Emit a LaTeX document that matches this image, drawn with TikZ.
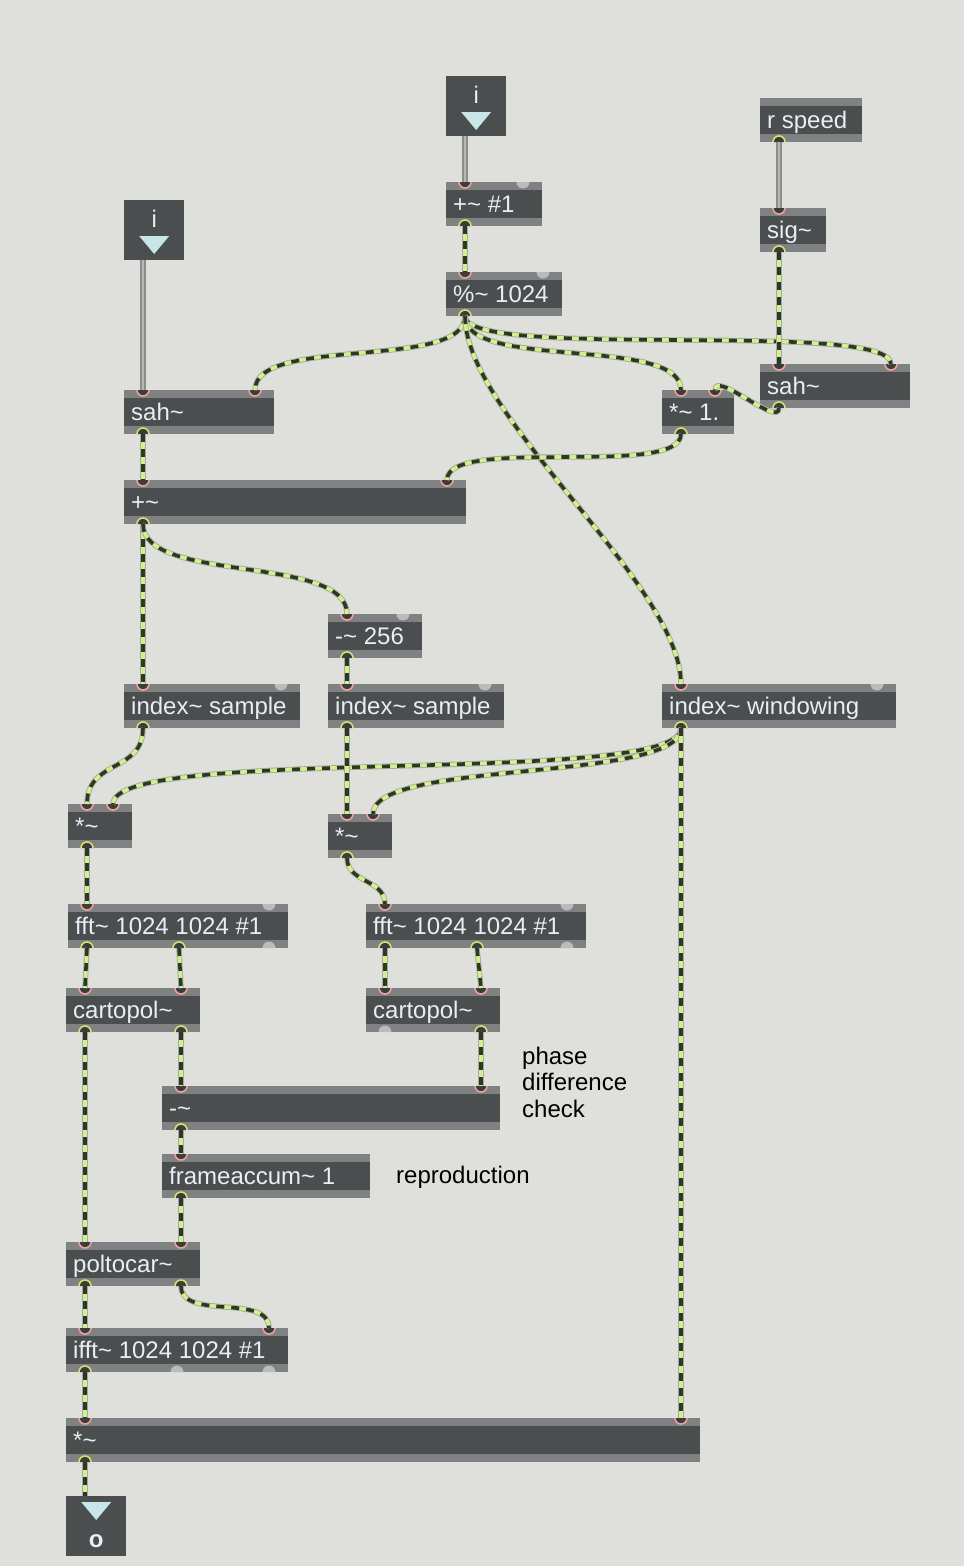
\documentclass[tikz,border=0pt]{standalone}
\usepackage{fontspec}
\setmainfont{Liberation Sans}
\usetikzlibrary{calc}
\definecolor{bg}{RGB}{223,224,219}
\definecolor{body}{RGB}{74,78,78}
\definecolor{strip}{RGB}{128,129,131}
\definecolor{txtc}{RGB}{232,238,244}
\definecolor{inc}{RGB}{240,160,150}
\definecolor{outc}{RGB}{215,225,105}
\definecolor{portfill}{RGB}{58,61,61}
\definecolor{dotc}{RGB}{186,187,189}
\definecolor{tric}{RGB}{200,230,232}
\definecolor{sigl}{RGB}{212,240,140}
\definecolor{sigd}{RGB}{45,55,35}
\definecolor{cedge}{RGB}{165,170,160}
\definecolor{ctlo}{RGB}{140,140,140}
\definecolor{ctli}{RGB}{185,185,185}
\newcommand\tld{\textasciitilde}
\newcommand\mobj[5]{%
  \node[objbox, minimum width=#4pt, anchor=north west] (#1) at (#2,#3) {};
  \node[objtxt, anchor=base west] (#1-t) at ($(#1.north west)+(7,30)$) {#5};}
\newcommand\portin[3]{\coordinate (#1) at (#2,#3);
  \fill[portfill] ($(#1)+(-6,0)$) arc[start angle=180,end angle=360,radius=6pt] -- cycle;
  \draw[inc, line width=1.6pt] ($(#1)+(-6,0)$) arc[start angle=180,end angle=360,radius=6pt];}
\newcommand\portout[3]{\coordinate (#1) at (#2,#3);
  \fill[portfill] ($(#1)+(-6,0)$) arc[start angle=180,end angle=0,radius=6pt] -- cycle;
  \draw[outc, line width=1.6pt] ($(#1)+(-6,0)$) arc[start angle=180,end angle=0,radius=6pt];}
\newcommand\dotin[2]{\fill[dotc] (#1-6.5,#2) arc[start angle=180,end angle=360,radius=6.5pt] -- cycle;}
\newcommand\dotout[2]{\fill[dotc] (#1-6.5,#2) arc[start angle=180,end angle=0,radius=6.5pt] -- cycle;}
\tikzset{
  objbox/.style={inner sep=0pt, minimum height=44pt, fill=strip,
    path picture={\fill[body] ([yshift=-8pt]path picture bounding box.north west) rectangle ([yshift=8pt]path picture bounding box.south east);}},
  iobox/.style={inner sep=0pt, minimum width=60pt, minimum height=60pt, fill=body, anchor=north west},
  objtxt/.style={inner sep=0pt, text=txtc, font=\fontsize{24}{28}\selectfont},
  cmt/.style={inner sep=0pt, text=black, font=\fontsize{24}{28}\selectfont, anchor=base west},
  tri/.style={fill=tric},
  sig/.style={line width=3.6pt, draw=sigl, preaction={draw=cedge, line width=5.4pt}, postaction={draw=sigd, line width=3.6pt, dash pattern=on 8pt off 7pt}},
  ctl/.style={line width=5.5pt, draw=ctlo, postaction={draw=ctli, line width=1.8pt}}
}
\begin{document}
\begin{tikzpicture}[x=1pt,y=-1pt]
\fill[bg] (0,0) rectangle (964,1566);
\useasboundingbox (0,0) rectangle (964,1566);
% inlet / outlet boxes
\node[iobox] (inT) at (446,76) {};
\node[objtxt, anchor=base] (inT-t) at ($(inT.north)+(0,27)$) {i};
\fill[tri] ($(inT.north)+(-15,36)$) -- ($(inT.north)+(15,36)$) -- ($(inT.north)+(0,54)$) -- cycle;
\node[iobox] (inL) at (124,200) {};
\node[objtxt, anchor=base] (inL-t) at ($(inL.north)+(0,27)$) {i};
\fill[tri] ($(inL.north)+(-15,36)$) -- ($(inL.north)+(15,36)$) -- ($(inL.north)+(0,54)$) -- cycle;
\node[iobox] (outB) at (66,1496) {};
\fill[tri] ($(outB.north)+(-15,6)$) -- ($(outB.north)+(15,6)$) -- ($(outB.north)+(0,24)$) -- cycle;
\node[objtxt, anchor=base, font=\fontsize{24}{28}\selectfont\bfseries] (outB-t) at ($(outB.north)+(0,51)$) {o};
% objects
\mobj{pct}{446}{182}{96}{+\tld{} \#1}
\mobj{mod}{446}{272}{116}{\%\tld{} 1024}
\mobj{rsp}{760}{98}{102}{r speed}
\mobj{sg}{760}{208}{66}{sig\tld}
\mobj{sahR}{760}{364}{150}{sah\tld}
\mobj{mula}{662}{390}{72}{*\tld{} 1.}
\mobj{sahL}{124}{390}{150}{sah\tld}
\mobj{plus}{124}{480}{342}{+\tld}
\mobj{sub}{328}{614}{94}{-\tld{} 256}
\mobj{idxL}{124}{684}{176}{index\tld{} sample}
\mobj{idxM}{328}{684}{176}{index\tld{} sample}
\mobj{idxW}{662}{684}{234}{index\tld{} windowing}
\mobj{mulL}{68}{804}{64}{*\tld}
\mobj{mulM}{328}{814}{64}{*\tld}
\mobj{fftL}{68}{904}{220}{fft\tld{} 1024 1024 \#1}
\mobj{fftR}{366}{904}{220}{fft\tld{} 1024 1024 \#1}
\mobj{carL}{66}{988}{134}{cartopol\tld}
\mobj{carR}{366}{988}{134}{cartopol\tld}
\mobj{diff}{162}{1086}{338}{-\tld}
\mobj{acc}{162}{1154}{208}{frameaccum\tld{} 1}
\mobj{pol}{66}{1242}{134}{poltocar\tld}
\mobj{ifft}{66}{1328}{222}{ifft\tld{} 1024 1024 \#1}
\mobj{mulB}{66}{1418}{634}{*\tld}
% comments
\node[cmt] (c1) at (522,1064) {phase};
\node[cmt] (c2) at (522,1090) {difference};
\node[cmt] (c3) at (522,1117) {check};
\node[cmt] (c4) at (396,1183) {reproduction};
% ports
\coordinate (inT-o) at (465,136);
\coordinate (inL-o) at (143,260);
\coordinate (outB-i) at (85,1496);
\portin{pct-i0}{465}{182}\dotin{523}{182}\portout{pct-o0}{465}{226}
\portin{mod-i0}{465}{272}\dotin{543}{272}\portout{mod-o0}{465}{316}
\portout{rsp-o0}{779}{142}
\portin{sg-i0}{779}{208}\portout{sg-o0}{779}{252}
\portin{sahR-i0}{779}{364}\portin{sahR-i1}{891}{364}\portout{sahR-o0}{779}{408}
\portin{mula-i0}{681}{390}\portin{mula-i1}{715}{390}\portout{mula-o0}{681}{434}
\portin{sahL-i0}{143}{390}\portin{sahL-i1}{255}{390}\portout{sahL-o0}{143}{434}
\portin{plus-i0}{143}{480}\portin{plus-i1}{447}{480}\portout{plus-o0}{143}{524}
\portin{sub-i0}{347}{614}\dotin{403}{614}\portout{sub-o0}{347}{658}
\portin{idxL-i0}{143}{684}\dotin{281}{684}\portout{idxL-o0}{143}{728}
\portin{idxM-i0}{347}{684}\dotin{485}{684}\portout{idxM-o0}{347}{728}
\portin{idxW-i0}{681}{684}\dotin{877}{684}\portout{idxW-o0}{681}{728}
\portin{mulL-i0}{87}{804}\portin{mulL-i1}{113}{804}\portout{mulL-o0}{87}{848}
\portin{mulM-i0}{347}{814}\portin{mulM-i1}{373}{814}\portout{mulM-o0}{347}{858}
\portin{fftL-i0}{87}{904}\dotin{269}{904}\portout{fftL-o0}{87}{948}\portout{fftL-o1}{179}{948}\dotout{269}{948}
\portin{fftR-i0}{385}{904}\dotin{567}{904}\portout{fftR-o0}{385}{948}\portout{fftR-o1}{477}{948}\dotout{567}{948}
\portin{carL-i0}{85}{988}\portin{carL-i1}{181}{988}\portout{carL-o0}{85}{1032}\portout{carL-o1}{181}{1032}
\portin{carR-i0}{385}{988}\portin{carR-i1}{481}{988}\dotout{385}{1032}\portout{carR-o1}{481}{1032}
\portin{diff-i0}{181}{1086}\portin{diff-i1}{481}{1086}\portout{diff-o0}{181}{1130}
\portin{acc-i0}{181}{1154}\portout{acc-o0}{181}{1198}
\portin{pol-i0}{85}{1242}\portin{pol-i1}{181}{1242}\portout{pol-o0}{85}{1286}\portout{pol-o1}{181}{1286}
\portin{ifft-i0}{85}{1328}\portin{ifft-i1}{269}{1328}\portout{ifft-o0}{85}{1372}\dotout{177}{1372}\dotout{269}{1372}
\portin{mulB-i0}{85}{1418}\portin{mulB-i1}{681}{1418}\portout{mulB-o0}{85}{1462}
% control cords
\draw[ctl] (inT-o) -- (pct-i0);
\draw[ctl] (inL-o) -- (sahL-i0);
\draw[ctl] (rsp-o0) -- (sg-i0);
% signal cords
\draw[sig] (pct-o0) -- (mod-i0);
\draw[sig] (mod-o0) .. controls +(0,55) and +(0,-55) .. (sahL-i1);
\draw[sig] (mod-o0) .. controls +(0,45) and +(0,-45) .. (sahR-i1);
\draw[sig] (mod-o0) .. controls +(0,55) and +(0,-55) .. (mula-i0);
\draw[sig] (mod-o0) .. controls +(0,100) and +(0,-100) .. (idxW-i0);
\draw[sig] (sg-o0) -- (sahR-i0);
\draw[sig] (sahR-o0) .. controls +(0,20) and +(0,-20) .. (mula-i1);
\draw[sig] (mula-o0) .. controls +(0,45) and +(0,-45) .. (plus-i1);
\draw[sig] (sahL-o0) -- (plus-i0);
\draw[sig] (plus-o0) -- (idxL-i0);
\draw[sig] (plus-o0) .. controls +(0,60) and +(0,-60) .. (sub-i0);
\draw[sig] (sub-o0) -- (idxM-i0);
\draw[sig] (idxL-o0) .. controls +(0,45) and +(0,-45) .. (mulL-i0);
\draw[sig] (idxW-o0) .. controls +(0,60) and +(0,-60) .. (mulL-i1);
\draw[sig] (idxW-o0) .. controls +(0,55) and +(0,-55) .. (mulM-i1);
\draw[sig] (idxW-o0) -- (mulB-i1);
\draw[sig] (idxM-o0) -- (mulM-i0);
\draw[sig] (mulL-o0) -- (fftL-i0);
\draw[sig] (mulM-o0) .. controls +(0,25) and +(0,-25) .. (fftR-i0);
\draw[sig] (fftL-o0) -- (carL-i0);
\draw[sig] (fftL-o1) -- (carL-i1);
\draw[sig] (fftR-o0) -- (carR-i0);
\draw[sig] (fftR-o1) -- (carR-i1);
\draw[sig] (carL-o0) -- (pol-i0);
\draw[sig] (carL-o1) -- (diff-i0);
\draw[sig] (carR-o1) -- (diff-i1);
\draw[sig] (diff-o0) -- (acc-i0);
\draw[sig] (acc-o0) -- (pol-i1);
\draw[sig] (pol-o0) -- (ifft-i0);
\draw[sig] (pol-o1) .. controls +(0,35) and +(0,-35) .. (ifft-i1);
\draw[sig] (ifft-o0) -- (mulB-i0);
\draw[sig] (mulB-o0) -- (outB-i);
\end{tikzpicture}
\end{document}
